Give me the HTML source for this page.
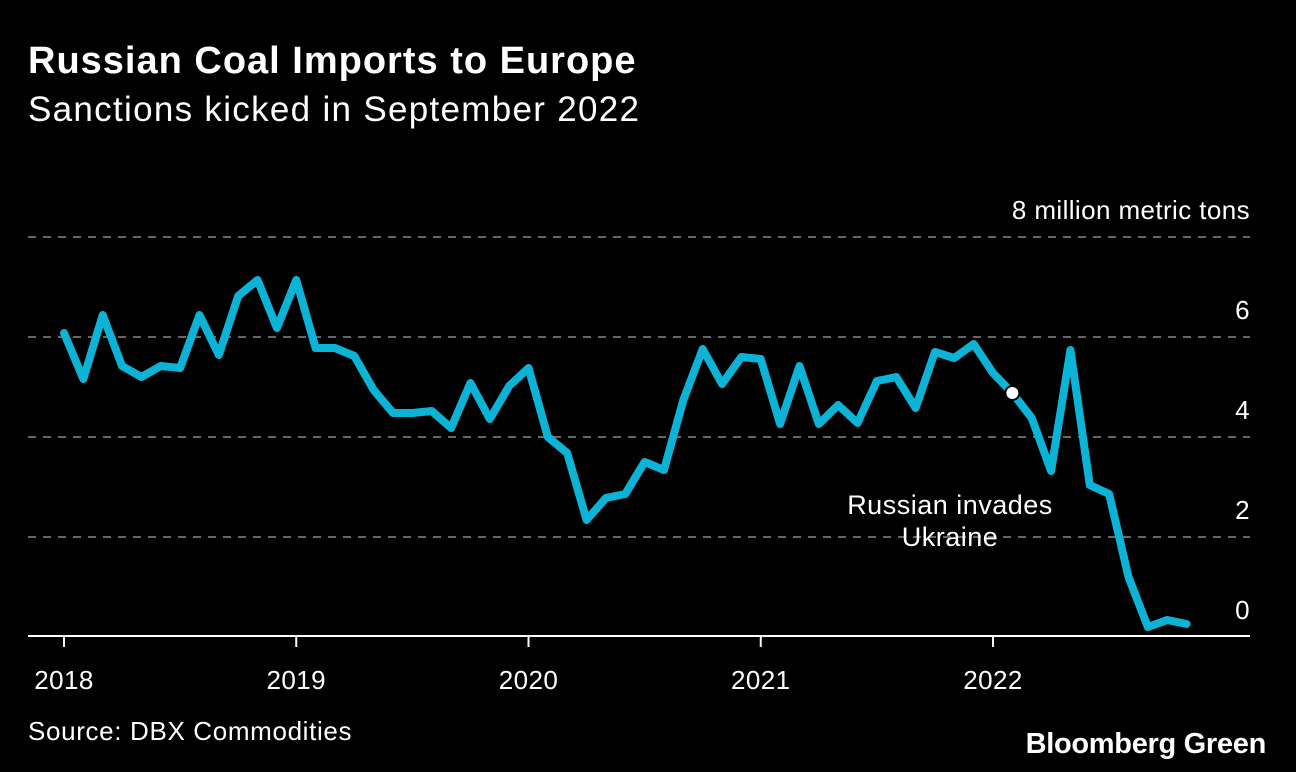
<!DOCTYPE html>
<html><head><meta charset="utf-8">
<style>
body{margin:0;background:#000;width:1296px;height:772px;overflow:hidden;font-family:"Liberation Sans",Arial,sans-serif;color:#fff}
.t{position:absolute;white-space:nowrap}
</style></head>
<body>
<div class="t" style="left:28px;top:40px;font-size:38px;font-weight:bold;letter-spacing:1px">Russian Coal Imports to Europe</div>
<div class="t" style="left:28px;top:90px;font-size:35px;letter-spacing:1.3px">Sanctions kicked in September 2022</div>
<svg id="c" width="1296" height="772" style="position:absolute;left:0;top:0"></svg>
<div class="t" style="left:28px;top:716px;font-size:26px;letter-spacing:0.65px">Source: DBX Commodities</div>
<div class="t" style="right:30px;top:728px;font-size:29px;font-weight:bold;letter-spacing:-0.3px">Bloomberg Green</div>
<script>
const years=["2018","2019","2020","2021","2022"];
const yTicks=[0,2,4,6,8];
const values=[6.08,5.16,6.44,5.42,5.2,5.42,5.38,6.44,5.64,6.82,7.14,6.18,7.14,5.78,5.78,5.62,4.94,4.48,4.48,4.52,4.18,5.08,4.36,5.02,5.38,4.0,3.68,2.34,2.78,2.86,3.5,3.34,4.74,5.76,5.06,5.6,5.56,4.26,5.42,4.26,4.64,4.28,5.12,5.2,4.58,5.7,5.58,5.86,5.28,4.88,4.38,3.32,5.74,3.04,2.86,1.2,0.2,0.34,0.26];
const invasionIndex=49;
const NS="http://www.w3.org/2000/svg";
const svg=document.getElementById('c');
const x=i=>64+i*(232.25/12);
const y=v=>637-v*50;
const F='Liberation Sans, sans-serif';
function mk(tag,attrs){const e=document.createElementNS(NS,tag);for(const k in attrs)e.setAttribute(k,attrs[k]);svg.appendChild(e);return e;}
yTicks.forEach(v=>{
  if(v>0){const g=mk('line',{x1:28,x2:1250,y1:y(v),y2:y(v),stroke:'#666','stroke-width':2,'stroke-dasharray':'8,7'});
  
  }
  const t=mk('text',{x:1250,y:y(v)-18,fill:'#fff','font-size':26,'text-anchor':'end','font-family':F,'letter-spacing':'0.4'});
  t.textContent=v===8?'8 million metric tons':String(v);
  
  
});
const ax=mk('line',{x1:28,x2:1250,y1:636,y2:636,stroke:'#fff','stroke-width':2});


years.forEach((yr,k)=>{
  const xx=x(k*12);
  const tk=mk('line',{x1:xx,x2:xx,y1:636,y2:647,stroke:'#fff','stroke-width':2});
  
  
  const t=mk('text',{x:xx,y:689,fill:'#fff','font-size':26,'text-anchor':'middle','font-family':F,'letter-spacing':'0.4'});
  t.textContent=yr;
  
  
});
const p=mk('polyline',{points:values.map((v,i)=>x(i)+','+y(v)).join(' '),fill:'none',stroke:'#0bb3d6','stroke-width':8,'stroke-linejoin':'round','stroke-linecap':'round'});


const c=mk('circle',{cx:x(invasionIndex),cy:y(values[invasionIndex]),r:7,fill:'#fff',stroke:'#000','stroke-width':2});


[['Russian invades',514],['Ukraine',546]].forEach((a,i)=>{
  const t=mk('text',{x:950,y:a[1],fill:'#fff','font-size':27,'text-anchor':'middle','font-family':F,'letter-spacing':'0.5'});
  t.textContent=a[0];
  
  
});
</script>
</body></html>
